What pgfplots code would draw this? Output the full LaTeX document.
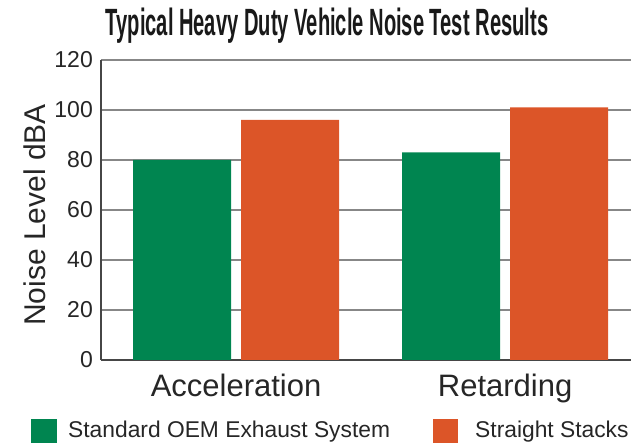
\documentclass[border=0pt]{standalone}
\usepackage{fontspec}
\setmainfont{Liberation Sans}
\newfontfamily\titlefont[FakeStretch=0.53]{Liberation Sans Bold}
\usepackage{pgfplots}
\pgfplotsset{compat=1.18}
\definecolor{oemgreen}{RGB}{0,133,80}
\definecolor{stackorange}{RGB}{220,85,40}
\definecolor{gridgray}{RGB}{135,135,135}
\definecolor{axisdark}{RGB}{70,70,70}

\begin{document}
\begin{tikzpicture}
\useasboundingbox (0,0) rectangle (631pt,443pt);
\begin{axis}[
    at={(101pt,83pt)}, anchor=south west,
    scale only axis, width=530pt, height=300pt,
    ybar, bar width=98pt,
    xmin=-0.502, xmax=1.468, ymin=0, ymax=120,
    xtick=data, xticklabels={Acceleration,Retarding},
    ytick={0,20,...,120},
    major tick length=0,
    axis lines=left, axis line style={-, axisdark, line width=1.4pt},
    ymajorgrids, grid style={gridgray, line width=1.4pt},
    /pgf/number format/assume math mode=true,
    yticklabel style={font=\fontsize{23}{26}\selectfont, color=black!85, inner sep=0pt, xshift=-8pt},
    xticklabel style={font=\fontsize{31}{34}\selectfont, color=black!85, anchor=base, yshift=-37pt},
    clip=false,
]
\addplot[fill=oemgreen, draw=none, bar shift=-54pt] coordinates {(0,80) (1,83)};
\addplot[fill=stackorange, draw=none, bar shift=54pt] coordinates {(0,96) (1,101)};
\end{axis}
% title
\node[anchor=base, font=\titlefont\fontsize{38}{42}\selectfont, color=black!90] at (327pt,407pt) {Typical Heavy Duty Vehicle Noise Test Results};
% y label
\node[anchor=base, rotate=90, font=\fontsize{30}{34}\selectfont, color=black!85] at (45pt,228pt) {Noise Level dBA};
% legend
\fill[oemgreen] (31pt,-5pt) rectangle (57pt,24pt);
\node[anchor=base west, inner sep=0pt, font=\fontsize{22.8}{26}\selectfont, color=black!85] at (68pt,5pt) {Standard OEM Exhaust System};
\fill[stackorange] (433pt,-5pt) rectangle (458pt,24pt);
\node[anchor=base west, inner sep=0pt, font=\fontsize{22.8}{26}\selectfont, color=black!85] at (475pt,5pt) {Straight Stacks};
\end{tikzpicture}
\end{document}
